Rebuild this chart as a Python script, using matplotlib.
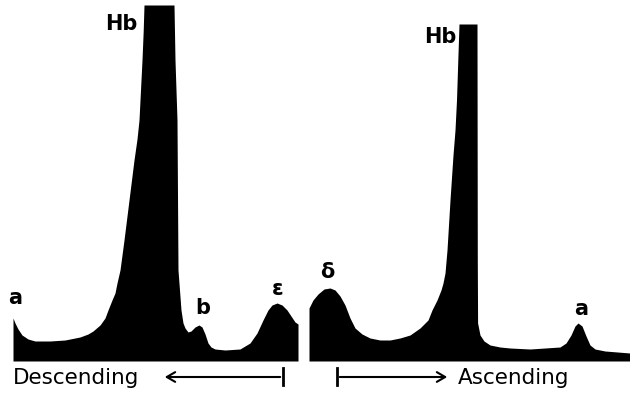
import matplotlib
matplotlib.use("Agg")
import matplotlib.pyplot as plt
import numpy as np

# Descending run (left panel): migration distance vs. absorbance trace height
desc_pos = [13, 15, 18, 22, 28, 35, 50, 65, 80, 88, 93, 100, 105, 108, 112, 115,
            117, 120, 124, 129, 134, 137, 139, 140.5, 142, 143.2, 144, 174, 175, 177, 178,
            181, 183, 185, 188, 191, 195, 199, 202, 205, 208, 211, 215, 225, 240,
            250, 257, 263, 268, 272, 277, 282, 287, 291, 295, 298]
desc_val = [43, 38, 32, 26, 22, 20, 20, 21, 24, 27, 30, 36, 43, 51, 61, 68,
            78, 91, 121, 161, 201, 222, 241, 271, 301, 330, 356, 356, 301, 241, 91,
            51, 38, 33, 29, 30, 34, 36, 34, 27, 18, 14, 12, 11, 12,
            18, 28, 41, 51, 56, 58, 56, 51, 45, 39, 37]

# Ascending run (right panel)
asc_pos = [309, 313, 318, 324, 330, 335, 340, 345, 350, 355, 362, 370, 380, 390,
           400, 410, 420, 428, 432, 437, 441, 443, 445, 447, 450, 453, 455, 456.5, 457.8,
           459, 477, 477.3, 477.6, 480, 484, 490, 500, 510, 530, 545, 560, 566,
           571, 575, 578, 582, 586, 590, 595, 605, 630]
asc_val = [53, 61, 67, 72, 73, 71, 65, 56, 43, 33, 27, 23, 21, 21,
           23, 26, 33, 41, 51, 61, 71, 78, 88, 111, 161, 206, 231, 261, 301,
           337, 337, 100, 38, 26, 20, 16, 14, 13, 12, 13, 14, 18,
           26, 35, 38, 35, 25, 16, 12, 10, 8]

# Peak labels
peak_labels = ["a", "Hb", "b", "\u03b5", "\u03b4", "Hb", "a"]
peak_label_pos = [15, 121, 203, 278, 327, 440, 581]
peak_label_val = [63, 337, 53, 72, 89, 324, 52]

fig = plt.figure(figsize=(6.3, 3.95), dpi=100)
ax = fig.add_axes([0, 0, 1, 1])
ax.set_xlim(0, 630)
ax.set_ylim(-34, 361)
ax.axis("off")

ax.fill_between(desc_pos, 0, desc_val, color="black", lw=0)
ax.fill_between(asc_pos, 0, asc_val, color="black", lw=0)

for lab, px, pv in zip(peak_labels, peak_label_pos, peak_label_val):
    ax.text(px, pv, lab, ha="center", va="center", fontsize=15,
            fontweight="bold", family="DejaVu Sans", color="black")

# Direction labels and arrows
ax.text(13, -17, "Descending", ha="left", va="center", fontsize=15.5, color="black")
ax.annotate("", xy=(162, -16), xytext=(283, -16),
            arrowprops=dict(arrowstyle="->,head_length=0.6,head_width=0.35", lw=1.5, color="black"))
ax.plot([283, 283], [-7, -24], color="black", lw=2)

ax.text(458, -17, "Ascending", ha="left", va="center", fontsize=15.5, color="black")
ax.annotate("", xy=(450, -16), xytext=(337, -16),
            arrowprops=dict(arrowstyle="->,head_length=0.6,head_width=0.35", lw=1.5, color="black"))
ax.plot([337, 337], [-7, -24], color="black", lw=2)

fig.savefig("out.png", dpi=100)
